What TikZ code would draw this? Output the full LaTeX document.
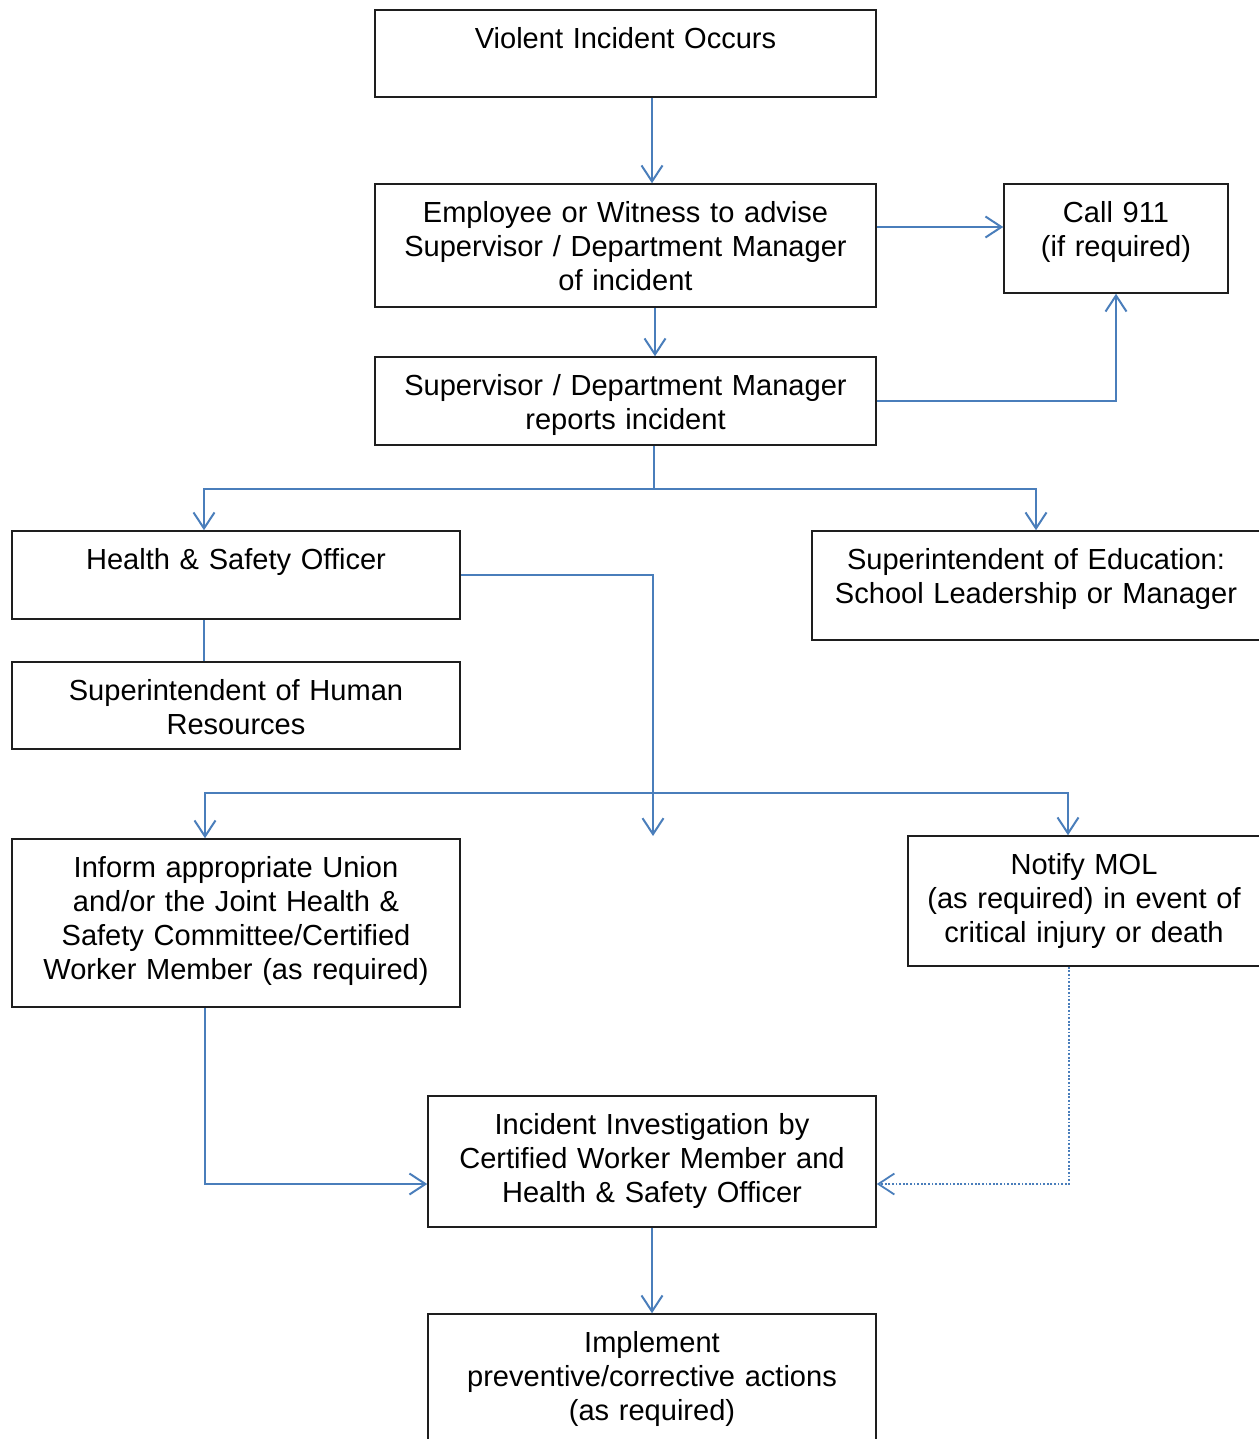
\documentclass[tikz,border=0pt]{standalone}
\usepackage{fontspec}
\setmainfont{Liberation Sans}
\usetikzlibrary{arrows.meta}
\definecolor{lineblue}{RGB}{74,126,187}
\definecolor{boxline}{RGB}{30,30,30}
\begin{document}
\begin{tikzpicture}[x=1pt,y=-1pt,
  box/.style={draw=boxline, line width=1.5pt, inner sep=0pt, align=center,
    text height=38.5pt, font=\fontsize{29.05}{34}\selectfont},
  conn/.style={draw=lineblue, line width=2pt},
  arr/.style={conn, -{Straight Barb[length=16pt,width=21pt]}},
  dotconn/.style={arr, dash pattern=on 1.8pt off 1.8pt, line width=1.8pt}]
\useasboundingbox (0,0) rectangle (1258,1439);

\node[box, text width=501pt, text depth=48.5pt] (box1) at (625.5,53.5) {Violent Incident Occurs};
\node[box, text width=501pt, text depth=84.5pt] (box2) at (625.5,245.5) {Employee or Witness to advise\\Supervisor / Department Manager\\of incident};
\node[box, text width=224pt, text depth=70.5pt] (call) at (1116,238.5) {Call 911\\(if required)};
\node[box, text width=501pt, text depth=49.5pt] (box3) at (625.5,401) {Supervisor / Department Manager\\reports incident};
\node[box, text width=448pt, text depth=49.5pt] (hs) at (236,575) {Health \& Safety Officer};
\node[box, text width=452pt, text depth=70.5pt] (edu) at (1038,585.5) {};
\node[box, draw=none, text width=448pt, text depth=70.5pt] (edutext) at (1036,585.5) {Superintendent of Education:\\School Leadership or Manager};
\node[box, text width=448pt, text depth=48.5pt] (hr) at (236,705.5) {Superintendent of Human\\Resources};
\node[box, text width=448pt, text depth=129.5pt] (inform) at (236,923) {Inform appropriate Union\\and/or the Joint Health \&\\Safety Committee/Certified\\Worker Member (as required)};
\node[box, text width=356pt, text depth=91.5pt] (mol) at (1086,901) {};
\node[box, draw=none, text width=352pt, text depth=91.5pt] (moltext) at (1084,901) {Notify MOL\\(as required) in event of\\critical injury or death};
\node[box, text width=448pt, text depth=92.5pt] (invest) at (652,1161.5) {Incident Investigation by\\Certified Worker Member and\\Health \& Safety Officer};
\node[box, text width=448pt, text depth=97.5pt] (impl) at (652,1382) {Implement\\preventive/corrective actions\\(as required)};

% helper coordinates for columns and rows
\coordinate (x652) at (652,0);
\coordinate (x655) at (655,0);
\coordinate (x654) at (654,0);
\coordinate (x653) at (653,0);
\coordinate (x204) at (204,0);
\coordinate (x205) at (205,0);
\coordinate (x1036) at (1036,0);
\coordinate (x1068) at (1068,0);
\coordinate (x1069) at (1069,0);
\coordinate (y227) at (0,227);
\coordinate (y489) at (0,489);
\coordinate (y793) at (0,793);
\coordinate (y1184) at (0,1184);
\coordinate (free) at (653,836);

\draw[arr] (box1.south -| x652) -- (box2.north -| x652);
\draw[arr] (box2.east |- y227) -- (call.west |- y227);
\draw[arr] (box2.south -| x655) -- (box3.north -| x655);
\draw[arr] (box3.east) -| (call.south);
\draw[arr] (box3.south -| x654) -- (x654 |- y489) -| (hs.north -| x204);
\draw[arr] (x654 |- y489) -| (edu.north -| x1036);
\draw[conn] (hs.south -| x204) -- (hr.north -| x204);
\draw[arr] (hs.east) -| (x653 |- y793) -| (inform.north -| x205);
\draw[arr] (x653 |- y793) -| (mol.north -| x1068);
\draw[arr] (x653 |- y793) -- (free);
\draw[arr] (inform.south -| x205) |- (invest.west |- y1184);
\draw[dotconn] (mol.south -| x1069) |- (invest.east |- y1184);
\draw[arr] (invest.south -| x652) -- (impl.north -| x652);
\end{tikzpicture}
\end{document}
